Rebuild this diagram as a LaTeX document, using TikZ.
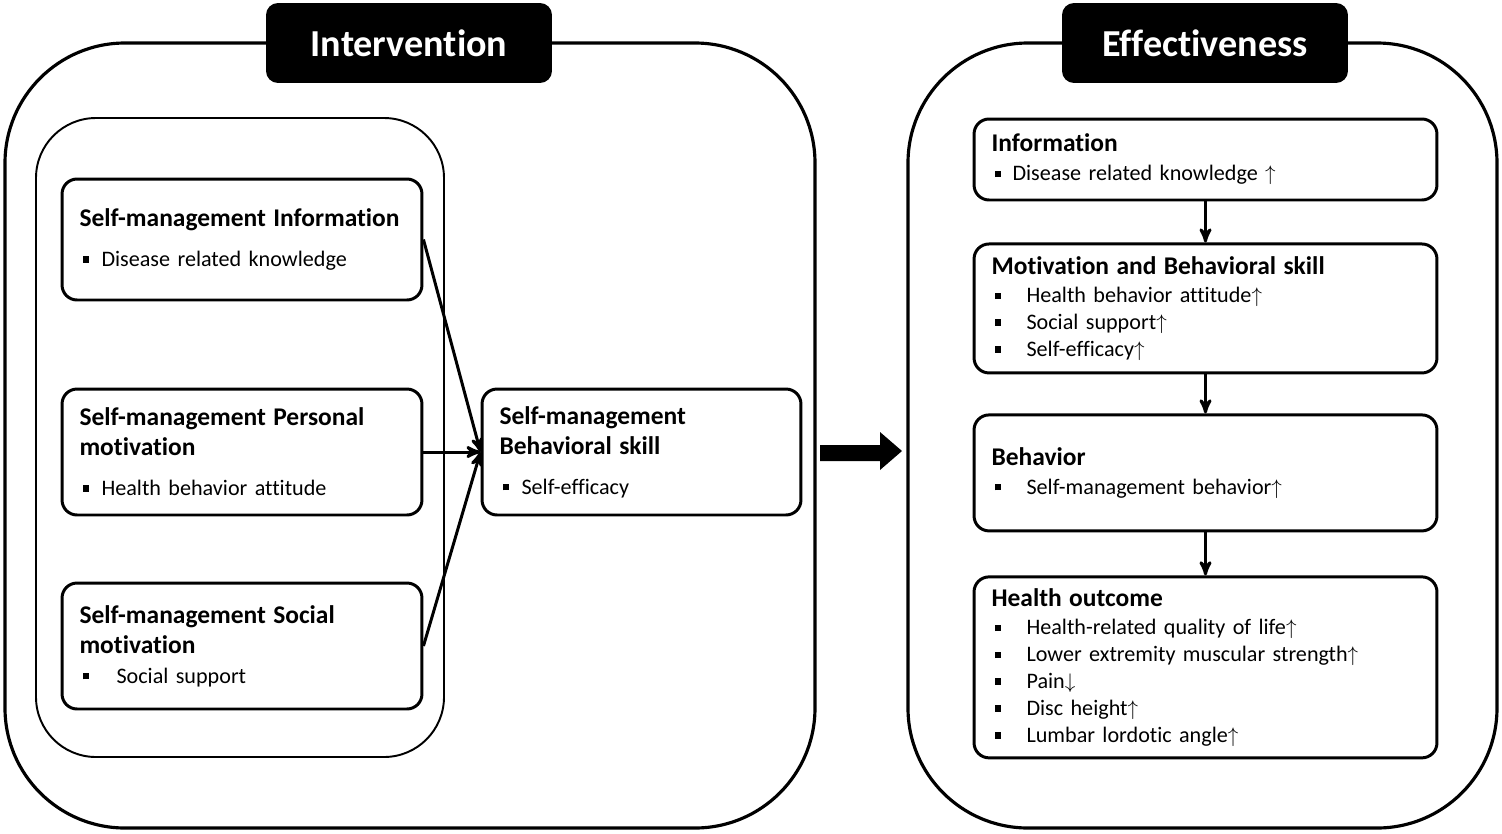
\documentclass[tikz,border=0pt]{standalone}
\usepackage{fontspec}
\setmainfont{Carlito}[Ligatures=CommonOff]
\usetikzlibrary{calc,positioning,arrows}

\newcommand{\sqb}{\rule[0.17em]{0.13cm}{0.13cm}}
\newcommand{\itm}[2][0.38cm]{\hspace*{0.06cm}\makebox[#1][l]{\sqb}#2}
\newcommand{\hd}[1]{{\bfseries\fontsize{14.5}{15.3}\selectfont #1}}
\newcommand{\up}{$\uparrow$}
\newcommand{\down}{$\downarrow$}

\tikzset{
  frame/.style={line width=1.8pt,rounded corners=2.4cm},
  innerframe/.style={line width=1.1pt,rounded corners=1.2cm},
  headbox/.style={fill=black,text=white,rounded corners=0.24cm,minimum width=5.72cm,minimum height=1.6cm,inner sep=0pt,font=\bfseries\fontsize{21.7}{26}\selectfont},
  lbox/.style={draw,line width=1.7pt,rounded corners=0.3cm,align=left,inner xsep=0.35cm,inner ysep=0pt,text width=6.5cm,minimum height=2.52cm,font=\fontsize{12.6}{15.3}\selectfont},
  rbox/.style={lbox,text width=8.56cm},
  link/.style={->,line width=1.7pt}
}

\begin{document}
\begin{tikzpicture}[x=0.02cm,y=-0.02cm,>=stealth',node distance=0.88cm]
    \useasboundingbox (0,0) rectangle (1502,833);
    \draw[frame] (5,43) rectangle (815,828);
    \draw[frame] (908,43) rectangle (1497,828);
    \draw[innerframe] (36,118) rectangle (444,757);
    \node[headbox] (Intervention) at (409,43) {Intervention};
    \node[headbox] (Effectiveness) at (1205,43) {Effectiveness};
    %
    \node[lbox,minimum height=2.42cm] (sm_info) at (242,239.5)
        {\hd{Self-management Information}\\[7.4pt]
         \itm{Disease related knowledge}};
    \node[lbox] (sm_personal) at (242,452)
        {\hd{Self-management Personal\\[1.7pt] motivation}\\[7.4pt]
         \itm{Health behavior attitude}};
    \node[lbox] (sm_social) at (242,646)
        {\hd{Self-management Social\\[1.7pt] motivation}\\[1.7pt]
         \itm[0.68cm]{Social support}};
    \node[lbox,text width=5.68cm] (sm_skill) at (641.5,452)
        {\hd{Self-management\\[1.7pt] Behavioral skill}\\[7.4pt]
         \itm{Self-efficacy}};
    %
    \draw[link] (sm_info.east) -- (sm_skill.west);
    \draw[link] (sm_personal.east) -- (sm_skill.west);
    \draw[link] (sm_social.east) -- (sm_skill.west);
    %
    \fill (820,445) -- (880,445) -- (880,432) -- (902,451) -- (880,470) -- (880,461) -- (820,461) -- cycle;
    %
    \node[rbox,minimum height=1.62cm] (Information) at (1205.5,159.5)
        {\hd{Information}\\[1.1pt]
         \itm[0.36cm]{Disease related knowledge \up}};
    \node[rbox,minimum height=2.58cm,below=0.82cm of Information] (Motivation)
        {\hd{Motivation and Behavioral skill}\\[1.1pt]
         \itm[0.64cm]{Health behavior attitude\up}\\
         \itm[0.64cm]{Social support\up}\\
         \itm[0.64cm]{Self-efficacy\up}};
    \node[rbox,minimum height=2.32cm,below=0.78cm of Motivation] (Behavior)
        {\hd{Behavior}\\[1.1pt]
         \itm[0.64cm]{Self-management behavior\up}};
    \node[rbox,minimum height=3.62cm,below=0.86cm of Behavior] (Outcome)
        {\hd{Health outcome}\\[1.1pt]
         \itm[0.64cm]{Health-related quality of life\up}\\
         \itm[0.64cm]{Lower extremity muscular strength\up}\\
         \itm[0.64cm]{Pain\down}\\
         \itm[0.64cm]{Disc height\up}\\
         \itm[0.64cm]{Lumbar lordotic angle\up}};
    %
    \draw[link] (Information) -- (Motivation);
    \draw[link] (Motivation) -- (Behavior);
    \draw[link] (Behavior) -- (Outcome);
\end{tikzpicture}
\end{document}
